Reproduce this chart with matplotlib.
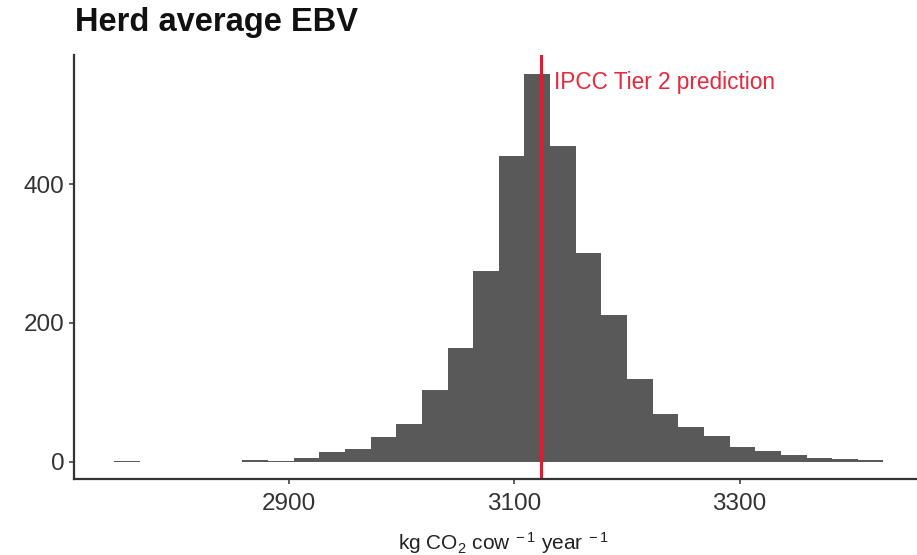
import numpy as np
import matplotlib.pyplot as plt

# histogram of herd average EBV (30 bins, counts)
bin_start = 2745.0
bin_width = 22.76
counts = [1, 0, 0, 0, 0, 3, 1, 6, 14, 18, 35, 55, 103, 164, 275,
          440, 558, 455, 301, 211, 119, 69, 50, 37, 21, 15, 9, 6, 4, 2]
ipcc_value = 3123.6
ipcc_label = "IPCC Tier 2 prediction"
x_ticks = [2900, 3100, 3300]
y_ticks = [0, 200, 400]

plt.rcParams["font.family"] = ["Liberation Sans", "DejaVu Sans"]
plt.rcParams["mathtext.fontset"] = "custom"
plt.rcParams["mathtext.rm"] = "Liberation Sans"
plt.rcParams["mathtext.it"] = "Liberation Sans:italic"

edges = bin_start + bin_width * np.arange(len(counts) + 1)

fig = plt.figure(figsize=(9.17, 5.55), dpi=100)
ax = fig.add_axes([0.0807, 0.1364, 0.926, 0.7645])

ax.stairs(counts, edges, fill=True, color="#595959", linewidth=0)
ax.axvline(ipcc_value, color="#dc1e32", linewidth=2.2)
ax.text(ipcc_value + 11.5, 546, ipcc_label, color="#e8283c",
        fontsize=16.3, va="center", ha="left")

ax.set_xlim(2709.3, 3463)
ax.set_ylim(-25.4, 586)
ax.set_xticks(x_ticks)
ax.set_yticks(y_ticks)

for side in ["top", "right"]:
    ax.spines[side].set_visible(False)
for side in ["left", "bottom"]:
    ax.spines[side].set_linewidth(1.6)
    ax.spines[side].set_color("#333333")
ax.tick_params(length=3.6, width=1.1, color="#333333",
               labelsize=17.5, labelcolor="#333333", pad=3.5)
ax.tick_params(axis="x", pad=6)

# x label as figure text so it sits near the bottom edge like the original
fig.text(0.5488, 1 - 543 / 555, r"kg CO$_2$ cow$^{\ -1}$ year$^{\ -1}$",
         fontsize=15, color="#222222", ha="center", va="center")

fig.text(0.0818, 1 - 23 / 555, "Herd average EBV", fontsize=23.5,
         fontweight="bold", va="center", ha="left", color="#111111")

fig.savefig("out.png", dpi=100)
